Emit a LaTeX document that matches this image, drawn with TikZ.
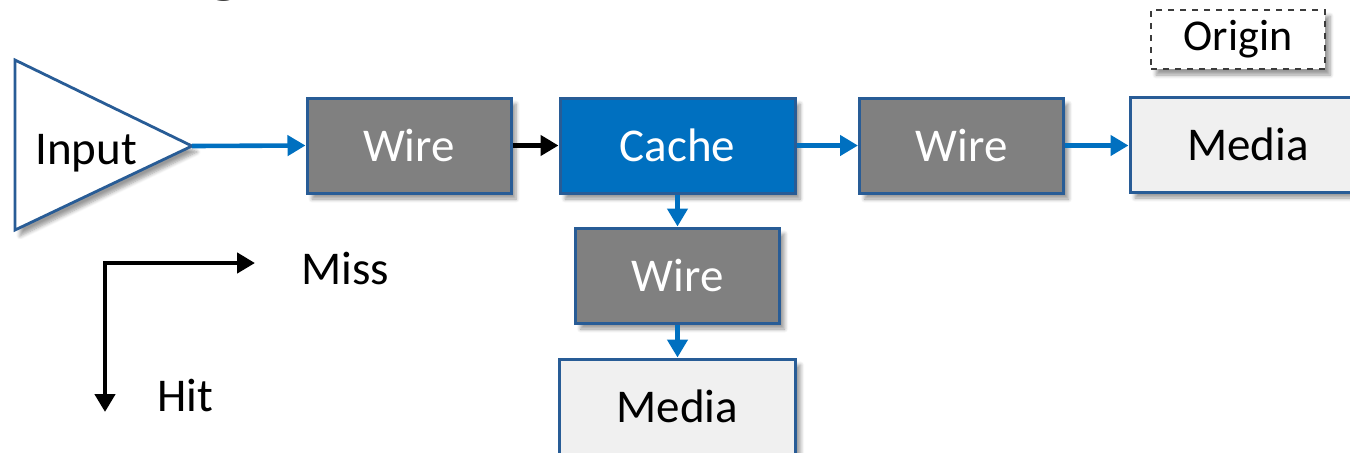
\documentclass[tikz,border=0pt]{standalone}
\usepackage{fontspec}
\setmainfont{Carlito}
\usetikzlibrary{arrows.meta,shadows.blur}
\definecolor{flowblue}{RGB}{0,112,192}
\definecolor{edgeblue}{RGB}{40,92,150}
\definecolor{wiregray}{RGB}{128,128,128}
\definecolor{medialight}{RGB}{240,240,240}
\definecolor{dashgray}{RGB}{60,60,60}
\tikzset{
  soft/.style={blur shadow={shadow xshift=2.5pt,shadow yshift=-3pt,shadow blur steps=6,shadow opacity=40}},
  block/.style={draw=edgeblue,line width=1.5pt,rectangle,minimum height=47.5pt,
    font=\fontsize{23.5}{28}\selectfont,soft,inner sep=0pt},
  wirebox/.style={block,fill=wiregray,text=white,minimum width=102pt},
  cachebox/.style={block,fill=flowblue,text=white,minimum width=117.5pt},
  mediabox/.style={block,fill=medialight,text=black,minimum width=118pt},
  flow/.style={line width=2.3pt,draw=flowblue,-{Triangle[length=9pt,width=10pt]}},
  missflow/.style={line width=2.3pt,draw=black,-{Triangle[length=9pt,width=10pt]}},
  legendarrow/.style={line width=2.3pt,draw=black,line join=miter,
    {Triangle[length=9pt,width=10pt]}-{Triangle[length=9pt,width=10pt]}},
  label/.style={font=\fontsize{23.5}{28}\selectfont,inner sep=0pt}
}
\begin{document}
\begin{tikzpicture}[x=0.5pt,y=-0.5pt]
\useasboundingbox (0,0) rectangle (1350,452);
\clip (0,0) rectangle (1350,452);

% title fragment
\node[font=\fontsize{40}{44}\selectfont,anchor=base,inner sep=0pt] (titleg) at (224,-13) {g};

% input amplifier
\coordinate (tl) at (15,60);
\coordinate (apex) at (192,146);
\coordinate (bl) at (15,230);
\path[soft,draw=edgeblue,line width=1.4pt,fill=white,line join=miter] (tl) -- (apex) -- (bl) -- cycle;
\node[label] (input) at (86,153) {Input};

% main chain
\node[wirebox] (wire1) at (409,145.5) {Wire};
\node[cachebox] (cache) at (677.5,145.5) {Cache};
\node[wirebox] (wire2) at (961.5,145.5) {Wire};
\node[mediabox] (media1) at (1248,144.5) {Media};
\node[wirebox] (wire3) at (677.5,275.5) {Wire};
\node[mediabox] (media2) at (677.5,406.5) {Media};

% origin tag
\node[draw=dashgray,dashed,line width=1.3pt,fill=white,soft,minimum width=87pt,minimum height=29.5pt,
  font=\fontsize{22}{26}\selectfont,inner sep=0pt] (origin) at (1238,39.5) {Origin};

% connectors
\draw[flow] (apex) -- (wire1.west);
\draw[missflow] (wire1.east) -- (cache.west);
\draw[flow] (cache.east) -- (wire2.west);
\draw[flow] (wire2.east) -- (media1.west |- wire2.east);
\draw[flow] (cache.south) -- (wire3.north);
\draw[flow] (wire3.south) -- (media2.north);

% legend
\coordinate (corner) at (105,263);
\coordinate (missend) at (255,263);
\coordinate (hitend) at (105,412);
\draw[legendarrow] (hitend) -- (corner) -- (missend);
\node[label] (miss) at (345,268) {Miss};
\node[label] (hit) at (185,395) {Hit};
\end{tikzpicture}
\end{document}
